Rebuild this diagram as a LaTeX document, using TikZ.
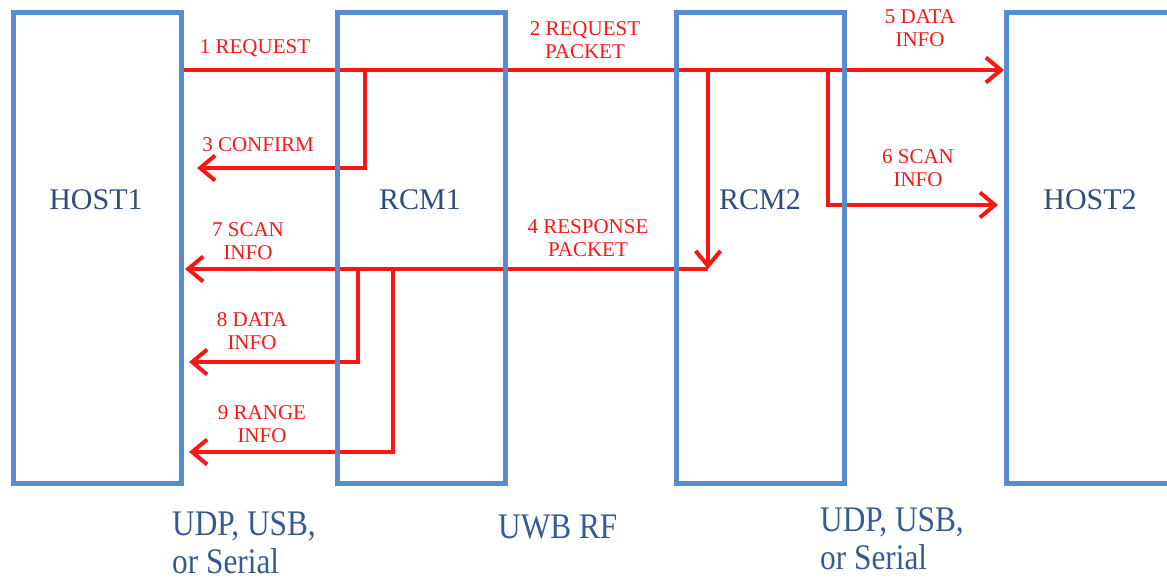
\documentclass[tikz,border=0pt]{standalone}
\usepackage{fontspec}
\setmainfont{Liberation Serif}
\newfontfamily\capfont[FakeStretch=0.87]{Liberation Serif}
\usetikzlibrary{arrows.meta,backgrounds}
\definecolor{boxblue}{RGB}{88,140,208}
\definecolor{flowred}{RGB}{250,22,22}
\definecolor{boxtext}{RGB}{46,77,126}
\definecolor{captext}{RGB}{55,90,145}
\begin{document}
\begin{tikzpicture}[x=1pt,y=-1pt,
  unitbox/.style={draw=boxblue, line width=5pt, minimum width=168pt, minimum height=471pt, inner sep=0pt, outer sep=0pt},
  boxlabel/.style={text=boxtext, font=\fontsize{30}{34}\selectfont, inner sep=0pt},
  flow/.style={draw=flowred, line width=4pt},
  flowarrow/.style={flow, -{Straight Barb[length=15pt,width=25pt]}},
  msg/.style={text=flowred, font=\fontsize{21}{23}\selectfont, align=center, inner sep=0pt},
  caption/.style={text=captext, font=\capfont\fontsize{36}{38}\selectfont, align=left, anchor=base west, inner sep=0pt}]
\clip (0,0) rectangle (1167,579);
\useasboundingbox (0,0) rectangle (1167,579);

% boxes
\node[unitbox] (host1) at (97,247.5) {};
\node[unitbox] (rcm1) at (421.5,247.5) {};
\node[unitbox] (rcm2) at (760.5,247.5) {};
\node[unitbox] (host2) at (1090,247.5) {};

\node[boxlabel] (host1t) at (96,200) {HOST1};
\node[boxlabel] (rcm1t) at (420,200) {RCM1};
\node[boxlabel] (rcm2t) at (760,200) {RCM2};
\node[boxlabel] (host2t) at (1090,200) {HOST2};

% junctions and tips
\coordinate (j3) at (365,70);  \coordinate (b3) at (365,168); \coordinate (t3) at (197,168);
\coordinate (j4) at (708,70);  \coordinate (t4) at (708,269);
\coordinate (t7) at (185,269);
\coordinate (j6) at (828,70);  \coordinate (b6) at (828,205); \coordinate (t6) at (998,205);
\coordinate (j8) at (358,269); \coordinate (b8) at (358,362); \coordinate (t8) at (189,362);
\coordinate (j9) at (393,269); \coordinate (b9) at (393,452); \coordinate (t9) at (189,452);

\begin{scope}[on background layer]
  \draw[flowarrow, shorten >=2pt] (host1.east |- j3) -- (host2.west |- j3);
  \draw[flowarrow] (j3) -- (b3) -- (t3);
  \draw[flowarrow] (j4) -- (t4);
  \draw[flowarrow] (t4) -- (t7);
  \draw[flowarrow] (j6) -- (b6) -- (t6);
  \draw[flowarrow] (j8) -- (b8) -- (t8);
  \draw[flowarrow] (j9) -- (b9) -- (t9);
\end{scope}

% message labels
\node[msg] (m1) at (255,48) {1 REQUEST};
\node[msg] (m2) at (585,40) {2 REQUEST\\PACKET};
\node[msg] (m3) at (258,145) {3 CONFIRM};
\node[msg] (m4) at (588,238) {4 RESPONSE\\PACKET};
\node[msg] (m5) at (920,28.5) {5 DATA\\INFO};
\node[msg] (m6) at (918,168.5) {6 SCAN\\INFO};
\node[msg] (m7) at (248,241) {7 SCAN\\INFO};
\node[msg] (m8) at (252,331) {8 DATA\\INFO};
\node[msg] (m9) at (262,424) {9 RANGE\\INFO};

% bottom captions (base anchor = last line baseline)
\node[caption] (c1) at (172,573) {UDP, USB,\\or Serial};
\node[caption] (c2) at (498,538) {UWB RF};
\node[caption] (c3) at (820,569) {UDP, USB,\\or Serial};
\end{tikzpicture}
\end{document}
